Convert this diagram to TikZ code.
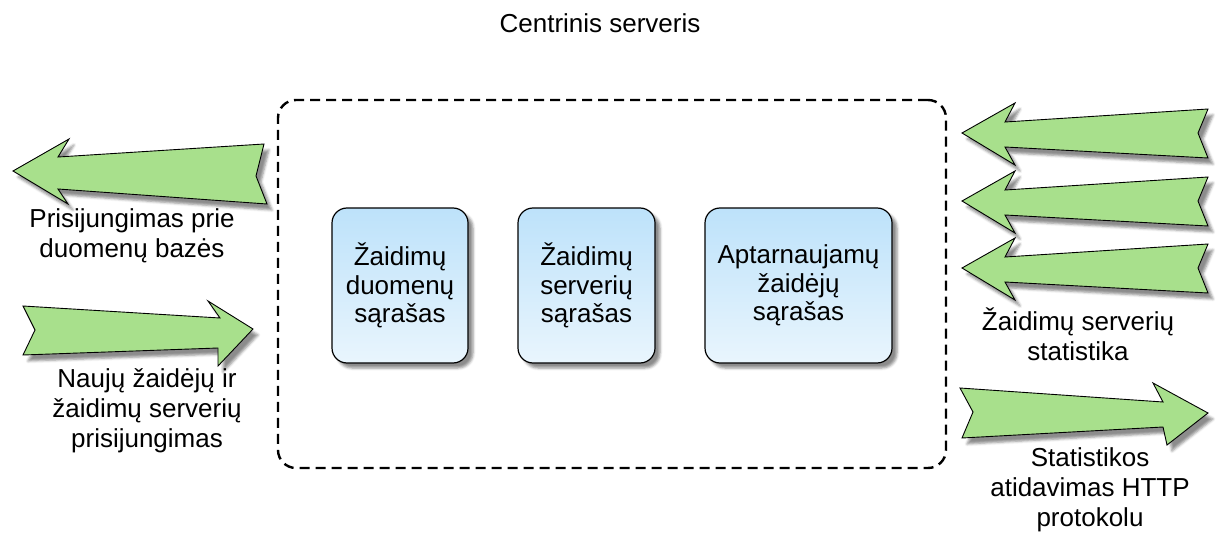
\documentclass[tikz,border=0pt]{standalone}
\usepackage{fontspec}
\setmainfont{Liberation Sans}
\usetikzlibrary{shadows.blur}
\definecolor{arrowgreen}{RGB}{168,224,140}
\definecolor{listtop}{RGB}{189,226,250}
\definecolor{listbottom}{RGB}{233,245,253}
\tikzset{
  label text/.style={align=center, inner sep=0pt,
    font=\fontsize{26}{30}\selectfont},
  listbox/.style={draw=black, line width=1.2pt, rounded corners=15pt,
    top color=listtop, bottom color=listbottom, align=center,
    font=\fontsize{26}{28.5}\selectfont,
    blur shadow={shadow xshift=5pt, shadow yshift=-5pt,
      shadow blur radius=2.5pt, shadow opacity=45}},
  serverbox/.style={draw=black, line width=2.4pt, rounded corners=18pt,
    dash pattern=on 10pt off 6pt, inner sep=0pt},
  flow/.style={draw=black, line width=0.9pt, fill=arrowgreen, line join=miter,
    blur shadow={shadow xshift=5pt, shadow yshift=-6pt,
      shadow blur radius=2.5pt, shadow opacity=45}},
}
% notched block arrow through eight corner points
\newcommand\blockarrow[8]{\filldraw[flow] #1--#2--#3--#4--#5--#6--#7--#8--cycle;}
\begin{document}
\begin{tikzpicture}[x=1pt, y=-1pt]
\useasboundingbox (0,0) rectangle (1221,535);

\node[anchor=base, inner sep=0pt, font=\fontsize{26}{30}\selectfont] (title) at (600,33) {Centrinis serveris};

% central server frame
\node[serverbox, minimum width=668pt, minimum height=368pt] (server) at (612,284) {};

% lists kept by the server
\node[listbox, minimum width=136pt, minimum height=155pt] (games) at (400,285.5)
  {Žaidimų\\duomenų\\sąrašas};
\node[listbox, minimum width=137pt, minimum height=155pt] (servers) at (586.5,285.5)
  {Žaidimų\\serverių\\sąrašas};
\node[listbox, minimum width=187pt, minimum height=155pt] (players) at (798.5,285.5)
  {Aptarnaujamų\\žaidėjų\\sąrašas};

% left side flows
\blockarrow{(13,171)}{(69,139)}{(58,157)}{(264,144)}{(256,176)}{(267,204)}{(58,189)}{(68,204)}
\node[label text] (dbconn) at (132,236) {Prisijungimas prie\\duomenų bazės};

\blockarrow{(23,306)}{(35,330)}{(23,355)}{(218,348)}{(218,366)}{(253,329)}{(208,301)}{(220,318)}
\node[label text] (newconn) at (147,411) {Naujų žaidėjų ir\\žaidimų serverių\\prisijungimas};

% right side flows
\foreach \dy in {0,68,135}{
  \blockarrow{(962,133+\dy)}{(1015,103+\dy)}{(1005,122+\dy)}{(1208,109+\dy)}{(1198,133+\dy)}{(1208,158+\dy)}{(1005,147+\dy)}{(1015,165+\dy)}
}
\node[label text] (stats) at (1078,334) {Žaidimų serverių\\statistika};

\blockarrow{(960,388)}{(1163,402)}{(1153,383)}{(1208,413)}{(1167,445)}{(1163,427)}{(962,438)}{(973,412)}
\node[label text] (http) at (1090,490) {Statistikos\\atidavimas HTTP\\protokolu};
\end{tikzpicture}
\end{document}
